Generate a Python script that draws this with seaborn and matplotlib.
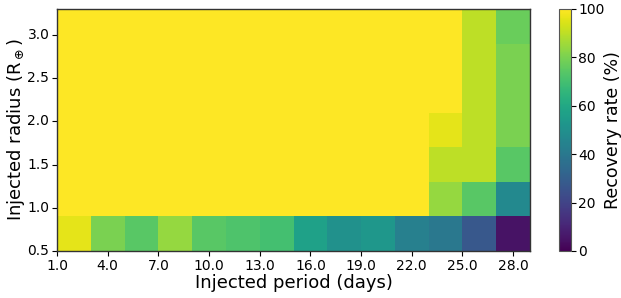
import numpy as np
import pandas as pd
import matplotlib
matplotlib.use("Agg")
import matplotlib.pyplot as plt
import seaborn as sns

# Period bin centers (days) and radius bin centers (R_earth)
periods = [2, 4, 6, 8, 10, 12, 14, 16, 18, 20, 22, 24, 26, 28]
radii = [0.7, 1.1, 1.5, 1.9, 2.3, 2.7, 3.1]
period_edges_min, period_bin = 1.0, 2.0
radius_edges_min, radius_bin = 0.5, 0.4

# Recovery rate (%) per radius row (bottom to top)
row_07 = [96, 80, 74, 84, 74, 72, 70, 57, 50, 53, 43, 40, 27, 5]
row_11 = [100, 100, 100, 100, 100, 100, 100, 100, 100, 100, 100, 84, 74, 47]
row_15 = [100, 100, 100, 100, 100, 100, 100, 100, 100, 100, 100, 90, 90, 74]
row_19 = [100, 100, 100, 100, 100, 100, 100, 100, 100, 100, 100, 96, 90, 80]
row_23 = [100, 100, 100, 100, 100, 100, 100, 100, 100, 100, 100, 100, 90, 80]
row_27 = [100, 100, 100, 100, 100, 100, 100, 100, 100, 100, 100, 100, 90, 80]
row_31 = [100, 100, 100, 100, 100, 100, 100, 100, 100, 100, 100, 100, 90, 77]

x_ticks = [1.0, 4.0, 7.0, 10.0, 13.0, 16.0, 19.0, 22.0, 25.0, 28.0]
y_ticks = [0.5, 1.0, 1.5, 2.0, 2.5, 3.0]
cbar_ticks = [0, 20, 40, 60, 80, 100]

data = pd.DataFrame([row_07, row_11, row_15, row_19, row_23, row_27, row_31],
                    index=radii, columns=periods)

fig = plt.figure(figsize=(6.21, 2.98), dpi=100)
ax = fig.add_axes([57/621, 1-251/298, (530-57)/621, (251-9)/298])
cax = fig.add_axes([559/621, 1-251/298, 12/621, (251-9)/298])

sns.heatmap(data, cmap="viridis", vmin=0, vmax=100, ax=ax, cbar_ax=cax,
            cbar_kws={"ticks": cbar_ticks})
ax.invert_yaxis()

ax.set_xticks([(t - period_edges_min) / period_bin for t in x_ticks])
ax.set_xticklabels([f"{t:.1f}" for t in x_ticks], rotation=0, fontsize=10)
ax.set_yticks([(t - radius_edges_min) / radius_bin for t in y_ticks])
ax.set_yticklabels([f"{t:.1f}" for t in y_ticks], rotation=0, fontsize=10)
ax.tick_params(axis="both", length=3.5, width=0.8, pad=2)
for s in ax.spines.values():
    s.set_visible(True)
    s.set_linewidth(1.0)
    s.set_color("#333333")

ax.set_xlabel("Injected period (days)", fontsize=13, labelpad=1)
ax.set_ylabel(r"Injected radius (R$_\oplus$)", fontsize=13, labelpad=0.5)

cb = ax.collections[0].colorbar
cb.outline.set_visible(True)
cb.outline.set_linewidth(0.8)
cb.outline.set_edgecolor("#555555")
cax.tick_params(labelsize=10, length=3.5, width=0.8, pad=1.5)
cb.set_label("Recovery rate (%)", fontsize=12.5, labelpad=0)

fig.savefig("out.png", dpi=100)
